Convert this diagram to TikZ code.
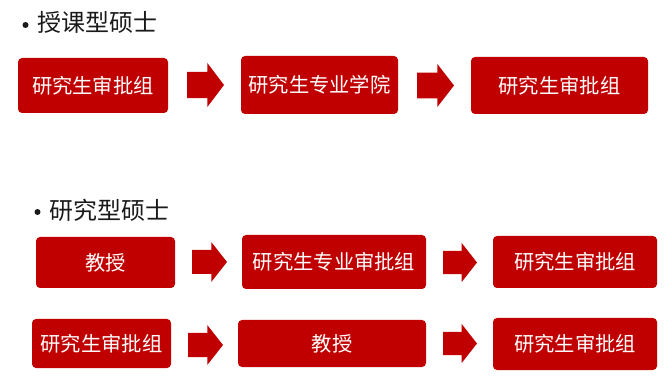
\documentclass[tikz,border=0pt]{standalone}
\usepackage{fontspec}
\newfontfamily\cjk{Noto Sans CJK SC}
\definecolor{boxred}{HTML}{C00000}
\definecolor{titlegray}{HTML}{1A1A1A}
\tikzset{
  redbox/.style={fill=boxred, rounded corners=4pt, draw=none},
  boxtext/.style={text=white, font=\cjk\fontsize{20.3pt}{24pt}\selectfont, inner sep=0pt},
  titletext/.style={text=titlegray, font=\cjk\fontsize{24pt}{28pt}\selectfont, inner sep=0pt, anchor=west},
  bulletdot/.style={fill=titlegray, draw=none, circle, inner sep=0pt, minimum size=6pt},
  blockarrow/.style={fill=boxred, draw=none}
}
% \myblockarrow{left}{top}{right}{bottom}
\newcommand\myblockarrow[4]{%
  \fill[blockarrow] (#1,{#2+0.2*(#4-#2)}) -- ({#1+0.55*(#3-#1)},{#2+0.2*(#4-#2)}) -- ({#1+0.55*(#3-#1)},#2)
   -- (#3,{0.5*(#2+#4)}) -- ({#1+0.55*(#3-#1)},#4) -- ({#1+0.55*(#3-#1)},{#4-0.2*(#4-#2)}) -- (#1,{#4-0.2*(#4-#2)}) -- cycle;}
\newcommand\mybox[6]{%
  \path[redbox] (#2,#3) rectangle (#4,#5);
  \node[boxtext] (#1) at ({0.5*(#2+#4)},{0.5*(#3+#5)}) {#6};}
\begin{document}
\begin{tikzpicture}[x=1pt,y=-1pt]
\useasboundingbox[fill=white] (0,0) rectangle (672,379);
% titles
\node[bulletdot] (b1) at (25.5,25) {};
\node[titletext] (t1) at (37,22) {授课型硕士};
\node[bulletdot] (b2) at (37.5,212) {};
\node[titletext] (t2) at (49,210) {研究型硕士};
% row 1
\mybox{a1}{18}{58}{168}{113}{研究生审批组}
\myblockarrow{187}{63}{224}{107}
\mybox{a2}{241}{56}{398}{114}{研究生专业学院}
\myblockarrow{417}{64}{454}{107}
\mybox{a3}{471}{57}{648}{114}{研究生审批组}
% row 2
\mybox{b1box}{36}{237}{175}{288}{教授}
\myblockarrow{192}{242}{227}{282}
\mybox{b2box}{242}{235}{426}{289}{研究生专业审批组}
\myblockarrow{443}{243}{477}{282}
\mybox{b3box}{493}{236}{657}{288}{研究生审批组}
% row 3
\mybox{c1}{32}{319}{171}{368}{研究生审批组}
\myblockarrow{188}{325}{223}{365}
\mybox{c2}{238}{320}{426}{367}{教授}
\myblockarrow{443}{324}{477}{363}
\mybox{c3}{493}{318}{657}{370}{研究生审批组}
\end{tikzpicture}
\end{document}
